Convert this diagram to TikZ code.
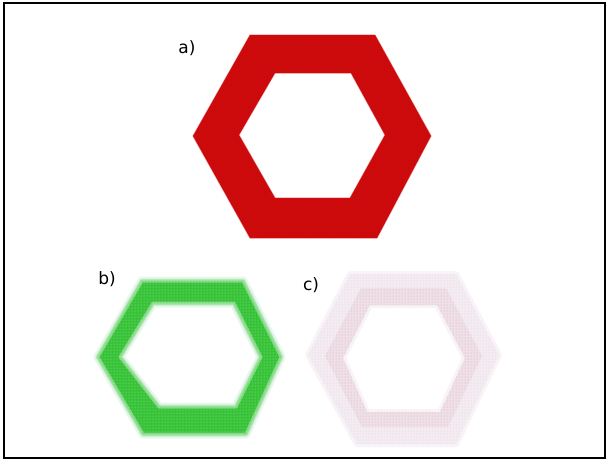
\documentclass[tikz,border=0pt]{standalone}
\usepackage{fontspec}
\setmainfont{DejaVu Sans}
\usetikzlibrary{patterns}
\definecolor{hexred}{RGB}{205,10,12}
\definecolor{hexgreen}{RGB}{55,195,55}
\definecolor{hexgreenlight}{RGB}{160,225,175}
\definecolor{hexpinkpale}{RGB}{244,236,243}
\definecolor{hexpink}{RGB}{238,220,226}
\definecolor{hexdot}{RGB}{190,110,115}
\tikzset{
  outA/.style={insert path={(250,35) -- (375,35) -- (431,136) -- (377,238) -- (250,238) -- (193,136) -- cycle}},
  inA/.style={insert path={(275,73) -- (351,73) -- (385,135) -- (350,198) -- (275,198) -- (239,135) -- cycle}},
  outB/.style={insert path={(142,281) -- (243,281) -- (281,357) -- (246,434) -- (143,434) -- (98,357) -- cycle}},
  inB/.style={insert path={(153,303) -- (234,303) -- (261,357) -- (236,407) -- (159,407) -- (120,357) -- cycle}},
  outC/.style={insert path={(350,274) -- (456,274) -- (499,355) -- (456,444) -- (357,444) -- (308,355) -- cycle}},
  inC/.style={insert path={(370,305) -- (437,305) -- (465,358) -- (440,412) -- (367,412) -- (343,358) -- cycle}},
  midC/.style={insert path={(361,288) -- (446,288) -- (482,356) -- (448,427) -- (362,427) -- (325,356) -- cycle}},
  lbl/.style={font=\fontsize{17}{17}\selectfont, inner sep=0pt},
  halo/.style={line join=round}
}
\begin{document}
\begin{tikzpicture}[x=1pt,y=-1pt]
\useasboundingbox (0,0) rectangle (609,461);
\fill[white] (0,0) rectangle (609,461);
\draw[line width=1.5pt] (4,3) rectangle (605,458);

% a) red ring
\draw[hexred!35, line width=1.2pt, halo, outA];
\draw[hexred!35, line width=1.2pt, halo, inA];
\fill[hexred, even odd rule, outA, inA];
\fill[pattern=dots, pattern color=black, opacity=0.07, even odd rule, outA, inA];
\node[lbl] (la) at (187,48) {a)};

% b) green ring, blurred
\draw[hexgreenlight, opacity=0.25, line width=9pt, halo, outB];
\draw[hexgreenlight, opacity=0.25, line width=9pt, halo, inB];
\draw[hexgreenlight, opacity=0.45, line width=5pt, halo, outB];
\draw[hexgreenlight, opacity=0.45, line width=5pt, halo, inB];
\fill[hexgreen, even odd rule, outB, inB];
\draw[hexgreen!55, opacity=0.8, line width=3pt, halo, outB];
\draw[hexgreen!55, opacity=0.8, line width=3pt, halo, inB];
\fill[pattern=dots, pattern color=white, opacity=0.55, even odd rule, outB, inB];
\node[lbl] (lb) at (107,279) {b)};

% c) pale ring
\draw[hexpinkpale, opacity=0.6, line width=6pt, halo, outC];
\draw[hexpinkpale, opacity=0.6, line width=6pt, halo, inC];
\fill[hexpinkpale, even odd rule, outC, inC];
\fill[hexpink, opacity=0.7, even odd rule, midC, inC];
\fill[pattern=dots, pattern color=hexdot, opacity=0.28, even odd rule, outC, inC];
\fill[pattern=dots, pattern color=hexdot, opacity=0.2, even odd rule, midC, inC];
\node[lbl] (lc) at (311,285) {c)};
\end{tikzpicture}
\end{document}
